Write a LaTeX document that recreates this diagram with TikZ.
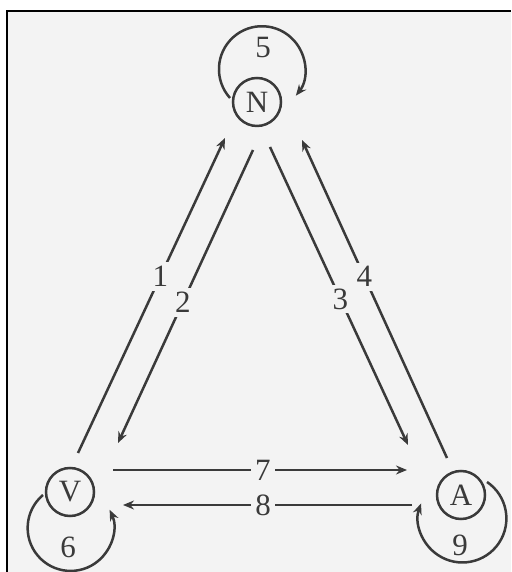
\documentclass[tikz,border=0pt]{standalone}
\usepackage{fontspec}
\setmainfont{Liberation Serif}
\usetikzlibrary{arrows.meta}
\definecolor{ink}{HTML}{3A3A3A}
\definecolor{paper}{HTML}{F3F3F3}
\begin{document}
\begin{tikzpicture}[x=1pt,y=1pt,
  st/.style={circle,draw=ink,line width=2.5pt,minimum size=48pt,inner sep=0pt,font=\fontsize{31}{34}\selectfont,text=ink},
  arr/.style={draw=ink,line width=2.5pt,-{Stealth[length=11pt,width=9pt]}},
  lab/.style={fill=paper,inner sep=4pt,font=\fontsize{31}{34}\selectfont,text=ink},
  plain/.style={font=\fontsize{31}{34}\selectfont,text=ink}]
\useasboundingbox (0,0) rectangle (511,572);
\fill[white] (0,0) rectangle (511,572);
\fill[paper] (7,0) rectangle (511,561);
\draw[black,line width=2.5pt] (7,0) -- (7,561) -- (511,561);
% states
\node[st] (N) at (257,470) {N};
\node[st] (V) at (70,80) {V};
\node[st] (A) at (461,77) {A};
% edges
\draw[arr] ([shift={(8,39)}]V.center) -- node[lab,pos=0.56] {1} ([shift={(-32,-36)}]N.center);
\draw[arr] ([shift={(-4,-48)}]N.center) -- node[lab,pos=0.52] {2} ([shift={(48,49)}]V.center);
\draw[arr] ([shift={(13,-45)}]N.center) -- node[lab,pos=0.51] {3} ([shift={(-53,50)}]A.center);
\draw[arr] ([shift={(-14,37)}]A.center) -- node[lab,pos=0.57] {4} ([shift={(45,-38)}]N.center);
\draw[arr] ([shift={(43,22)}]V.center) -- node[lab,pos=0.51] {7} ([shift={(-54,25)}]A.center);
\draw[arr] ([shift={(-49,-10)}]A.center) -- node[lab,pos=0.515] {8} ([shift={(53,-13)}]V.center);
% self loops
\draw[arr] ([shift={(-27,4)}]N.center) arc[start angle=222,end angle=-38,radius=43];
\node[plain] (l5) at (263,524) {5};
\draw[arr] ([shift={(-27,-3)}]V.center) arc[start angle=130,end angle=385,radius=43];
\node[plain] (l6) at (68,25) {6};
\draw[arr] ([shift={(26,13)}]A.center) arc[start angle=56,end angle=-200,radius=44];
\node[plain] (l9) at (460,27) {9};
\end{tikzpicture}
\end{document}
